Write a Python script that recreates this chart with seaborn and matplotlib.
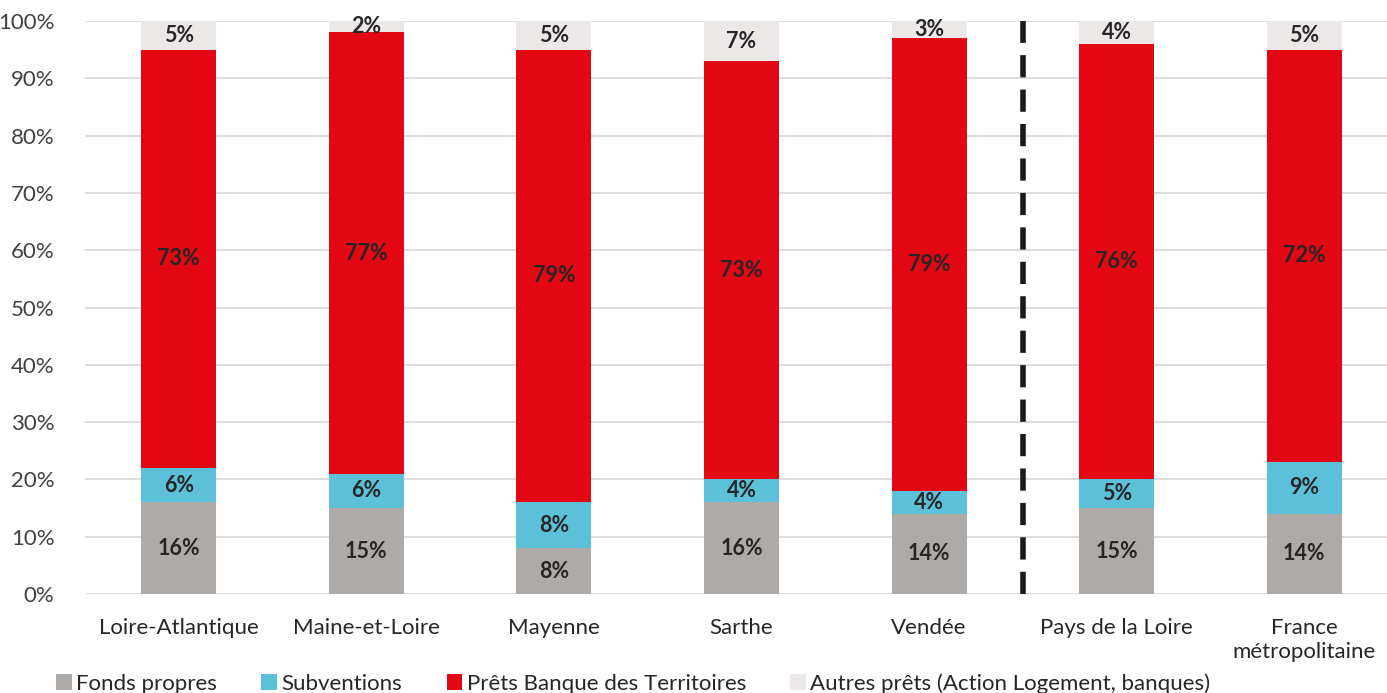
import matplotlib
matplotlib.use("Agg")
import matplotlib.pyplot as plt
import seaborn as sns
import numpy as np
import pandas as pd
from matplotlib.patches import Patch

categories = ["Loire-Atlantique", "Maine-et-Loire", "Mayenne", "Sarthe", "Vendée",
              "Pays de la Loire", "France\nmétropolitaine"]
fonds = [16, 15, 8, 16, 14, 15, 14]
subv = [6, 6, 8, 4, 4, 5, 9]
prets = [73, 77, 79, 73, 79, 76, 72]
autres = [5, 2, 5, 7, 3, 4, 5]
series_names = ["Fonds propres", "Subventions", "Prêts Banque des Territoires",
                "Autres prêts (Action Logement, banques)"]
colors = ["#AEAAA7", "#5BC0D8", "#E30613", "#EDE8E8"]

sns.set_style("white")
plt.rcParams['font.family'] = ['Lato', 'DejaVu Sans']

fig = plt.figure(figsize=(13.87, 6.93), dpi=100)
ax = fig.add_axes([85/1387, 1 - 594/693, (1398-85)/1387, (594-21)/693])

bottom = np.zeros(len(categories))
for vals, name, col in zip([fonds, subv, prets, autres], series_names, colors):
    sns.barplot(x=categories, y=vals, bottom=bottom, color=col, width=0.4,
                ax=ax, order=categories, linewidth=0, saturation=1)
    for i, v in enumerate(vals):
        ax.text(i, bottom[i] + v / 2, f"{v}%", ha="center", va="center",
                fontsize=15.5, fontweight="bold", color="#262626")
    bottom = bottom + np.array(vals)

ax.set_ylim(0, 100)
ax.set_xlim(-0.5, 6.5)
ax.set_yticks(range(0, 101, 10))
ax.set_yticklabels([f"{t}%" for t in range(0, 101, 10)], fontsize=16, color="#404040")
ax.set_xticks(range(len(categories)))
ax.set_xticklabels(categories, fontsize=16, color="#262626", linespacing=1.3)
ax.tick_params(axis="both", length=0)
ax.tick_params(axis="y", pad=22)
ax.tick_params(axis="x", pad=17)
ax.yaxis.grid(True, color="#D9D9D9", linewidth=1.3)
ax.set_axisbelow(True)
for s in ax.spines.values():
    s.set_visible(False)
ax.set_xlabel("")
ax.set_ylabel("")

ax.axvline(4.5, ymin=0, ymax=1, color="#1a1a1a", linewidth=4, linestyle=(0, (4, 2.2)))

handles = [Patch(facecolor=c, edgecolor="none") for c in colors]
fig.legend(handles, series_names, loc="lower left", bbox_to_anchor=(36/1387, -0.03),
           ncol=4, frameon=False, fontsize=16, handlelength=0.7, handleheight=0.7,
           handletextpad=0.2, columnspacing=2.0, labelcolor="#262626")

fig.savefig("out.png", dpi=100)
